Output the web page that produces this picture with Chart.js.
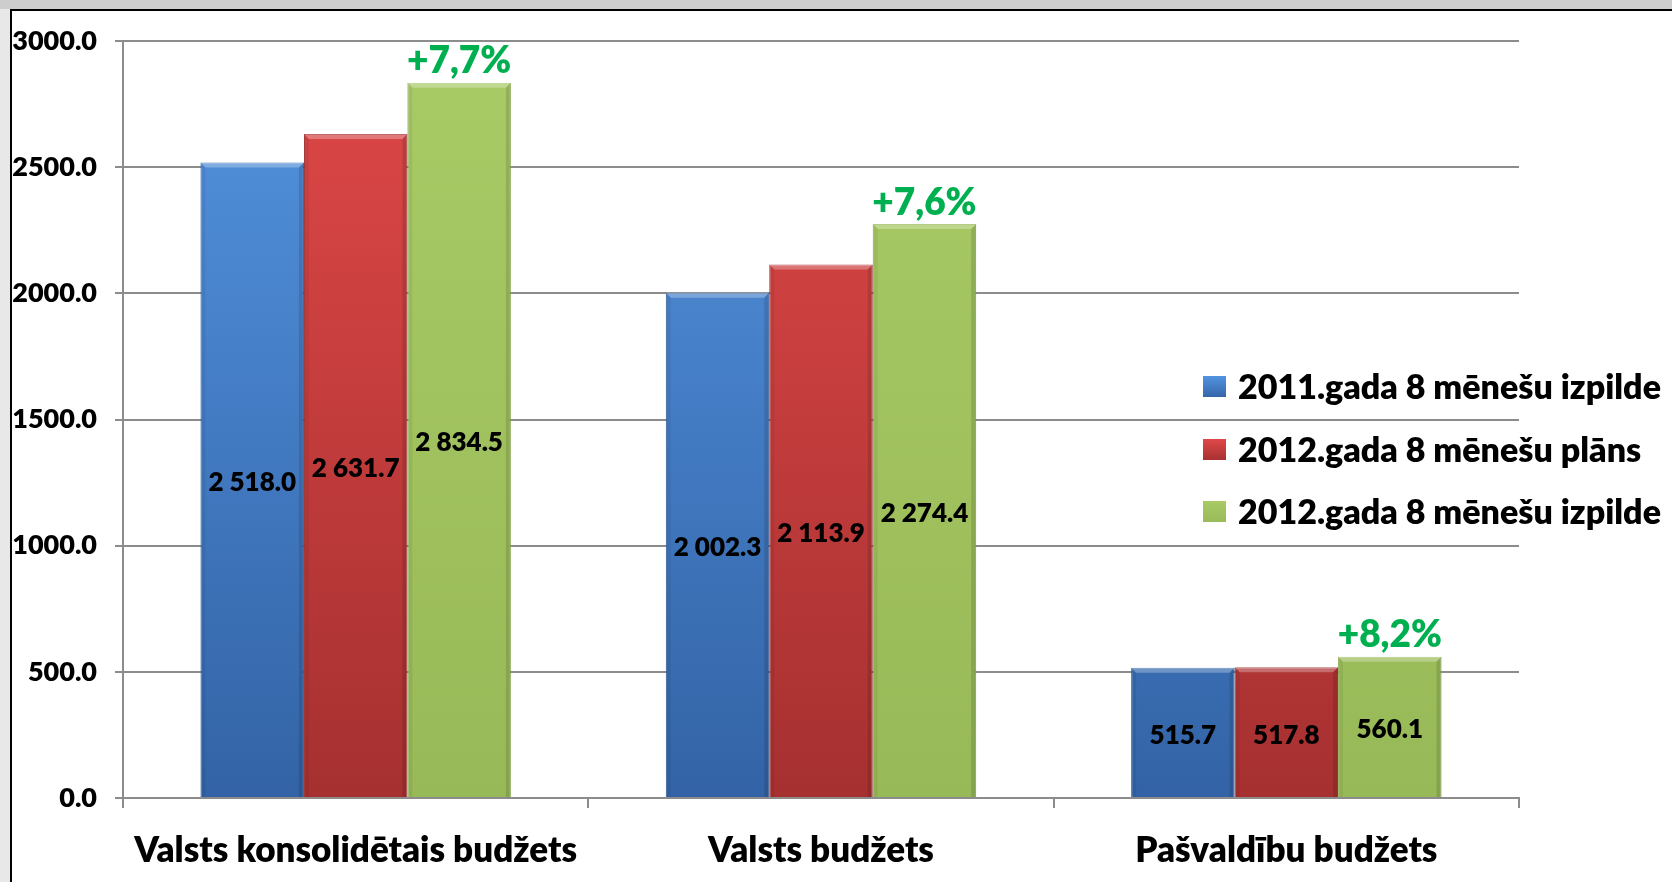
<!DOCTYPE html>
<html>
<head>
<meta charset="utf-8">
<script src="https://cdn.jsdelivr.net/npm/chart.js@4.4.0/dist/chart.umd.min.js"></script>
<style>
  body { margin: 0; width: 1672px; height: 882px; background: #e8e8e8; overflow: hidden; }
  #band { position: absolute; left: 0; top: 0; width: 1672px; height: 9px; background: #cdcdcd; }
  #frame { position: absolute; left: 10px; top: 9px; width: 1662px; height: 873px;
           border-left: 2px solid #000; border-top: 2px solid #000; background: #fff; }
  canvas { display: block; }
</style>
</head>
<body>
<div id="band"></div>
<div id="frame"><canvas id="chart" width="1660" height="871"></canvas></div>
<script>
// dati
const categories = ['Valsts konsolidētais budžets', 'Valsts budžets', 'Pašvaldību budžets'];
const seriesNames = ['2011.gada 8 mēnešu izpilde', '2012.gada 8 mēnešu plāns', '2012.gada 8 mēnešu izpilde'];
const izpilde2011 = [2518.0, 2002.3, 515.7];
const plans2012 = [2631.7, 2113.9, 517.8];
const izpilde2012 = [2834.5, 2274.4, 560.1];
const growthLabels = ['+7,7%', '+7,6%', '+8,2%'];
const yTicks = [0, 500, 1000, 1500, 2000, 2500, 3000];

const FONT = 'Lato, "Open Sans", sans-serif';
const W = '800';

// krāsas: [augša, apakša, leģenda]
const palette = [
  ['#5394e0', '#3363a6', '#3f7dcc'],
  ['#e04848', '#a63030', '#d43f3f'],
  ['#a9cb66', '#98b957', '#a2c45e']
];

function gradient(idx) {
  return function (ctx) {
    const area = ctx.chart.chartArea;
    if (!area) return palette[idx][2];
    const g = ctx.chart.ctx.createLinearGradient(0, area.top, 0, area.bottom);
    g.addColorStop(0, palette[idx][0]);
    g.addColorStop(1, palette[idx][1]);
    return g;
  };
}

function fmt(v) {
  const parts = v.toFixed(1).split('.');
  return parts[0].replace(/\B(?=(\d{3})+(?!\d))/g, ' ') + '.' + parts[1];
}

// slīpā mala stabiņiem (gaiša augša, tumšākas malas)
const bevelPlugin = {
  id: 'bevel',
  afterDatasetsDraw(chart) {
    const ctx = chart.ctx;
    ctx.save();
    chart.data.datasets.forEach((ds, di) => {
      chart.getDatasetMeta(di).data.forEach(bar => {
        const l = bar.x - bar.width / 2, r = bar.x + bar.width / 2;
        const t = bar.y, b = bar.base;
        ctx.fillStyle = 'rgba(255,255,255,0.28)';
        ctx.beginPath();
        ctx.moveTo(l, t); ctx.lineTo(r, t); ctx.lineTo(r - 5, t + 5); ctx.lineTo(l + 5, t + 5);
        ctx.closePath(); ctx.fill();
        ctx.fillStyle = 'rgba(0,0,0,0.12)';
        ctx.beginPath();
        ctx.moveTo(r, t); ctx.lineTo(r, b); ctx.lineTo(r - 5, b); ctx.lineTo(r - 5, t + 5);
        ctx.closePath(); ctx.fill();
        ctx.fillStyle = 'rgba(0,0,0,0.06)';
        ctx.beginPath();
        ctx.moveTo(l, t); ctx.lineTo(l + 5, t + 5); ctx.lineTo(l + 5, b); ctx.lineTo(l, b);
        ctx.closePath(); ctx.fill();
      });
    });
    ctx.restore();
  }
};

// vērtības stabiņos un pieauguma procenti
const labelsPlugin = {
  id: 'barLabels',
  afterDatasetsDraw(chart) {
    const ctx = chart.ctx;
    ctx.save();
    ctx.textAlign = 'center';
    chart.data.datasets.forEach((ds, di) => {
      const meta = chart.getDatasetMeta(di);
      meta.data.forEach((bar, i) => {
        ctx.fillStyle = '#000';
        ctx.font = W + ' 26px ' + FONT;
        ctx.textBaseline = 'middle';
        ctx.fillText(fmt(ds.data[i]), bar.x, (bar.y + bar.base) / 2 + 3);
        if (di === 2) {
          ctx.fillStyle = '#00b050';
          ctx.font = W + ' 37px ' + FONT;
          ctx.textBaseline = 'bottom';
          ctx.fillText(growthLabels[i], bar.x, bar.y - 3);
        }
      });
    });
    ctx.restore();
  }
};

// leģenda labajā pusē
const legendPlugin = {
  id: 'sideLegend',
  afterDraw(chart) {
    const ctx = chart.ctx;
    const rows = [376, 439, 501];
    ctx.save();
    ctx.font = W + ' 34px ' + FONT;
    ctx.textBaseline = 'middle';
    ctx.textAlign = 'left';
    chart.data.datasets.forEach((ds, i) => {
      const y = rows[i];
      const g = ctx.createLinearGradient(0, y - 11, 0, y + 11);
      g.addColorStop(0, palette[i][0]);
      g.addColorStop(1, palette[i][1]);
      ctx.fillStyle = g;
      ctx.fillRect(1191, y - 11, 23, 21);
      ctx.fillStyle = '#000';
      ctx.fillText(ds.label, 1226, y + 1);
    });
    ctx.restore();
  }
};

const datasets = [izpilde2011, plans2012, izpilde2012].map((data, i) => ({
  label: seriesNames[i],
  data: data,
  backgroundColor: gradient(i),
  borderColor: palette[i][1],
  borderWidth: 1,
  categoryPercentage: 0.667,
  barPercentage: 1.0
}));

new Chart(document.getElementById('chart'), {
  type: 'bar',
  data: { labels: categories, datasets },
  options: {
    responsive: false,
    animation: false,
    layout: { padding: { top: 30, right: 153, left: 0, bottom: 0 } },
    plugins: {
      legend: { display: false },
      tooltip: { enabled: false }
    },
    scales: {
      x: {
        grid: {
          offset: true,
          drawOnChartArea: false,
          drawTicks: true,
          tickLength: 10,
          color: '#8c8c8c',
          lineWidth: 2
        },
        border: { color: '#8c8c8c', width: 2 },
        ticks: {
          color: '#000',
          padding: 22,
          font: { family: FONT, size: 35, weight: W }
        },
        afterFit(scale) { scale.height = 84; }
      },
      y: {
        min: yTicks[0],
        max: yTicks[yTicks.length - 1],
        afterBuildTicks(scale) { scale.ticks = yTicks.map(v => ({ value: v })); },
        grid: { color: '#8c8c8c', lineWidth: 2, tickLength: 8 },
        border: { color: '#8c8c8c', width: 2 },
        ticks: {
          color: '#000',
          padding: 18,
          font: { family: FONT, size: 27, weight: W },
          callback: v => Number(v).toFixed(1)
        },
        afterFit(scale) {
          scale.width = 111;
          scale.paddingTop = 0;
          scale.paddingBottom = 0;
        }
      }
    }
  },
  plugins: [bevelPlugin, labelsPlugin, legendPlugin]
});
</script>
</body>
</html>
